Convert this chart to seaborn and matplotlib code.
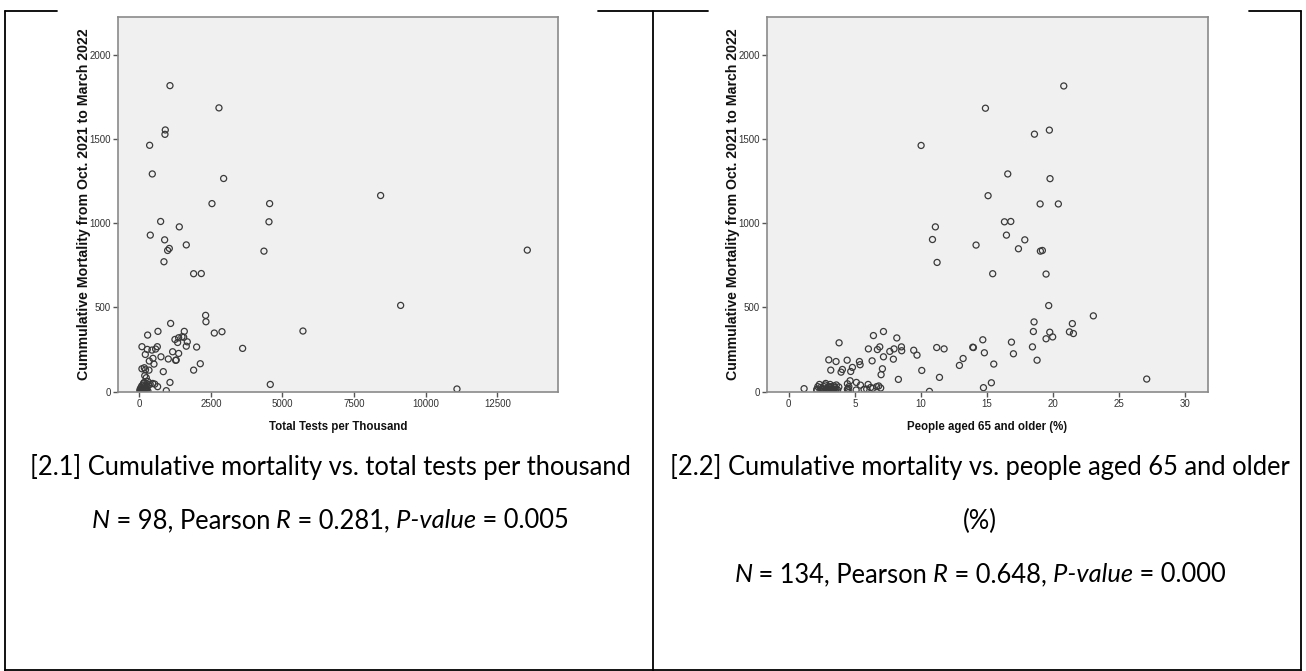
import numpy as np
import pandas as pd
import matplotlib
matplotlib.use("Agg")
import matplotlib.pyplot as plt
from matplotlib.lines import Line2D
import seaborn as sns

# --- data (tests per thousand vs mortality) ---
tests_x = [1071, 2782, 908, 896, 361, 454, 2945, 8427, 2538, 4551, 745, 4528, 1397, 384,
           885, 1641, 1048, 989, 4353, 13549, 861, 1897, 2165, 9126, 2316, 2328, 1094, 5715,
           652, 291, 2619, 2887, 1571, 3608, 2002,
           1245, 1374, 1490, 1339, 1676, 1550, 1641, 93, 629, 570, 442, 279, 210, 477, 757,
           1013, 1164, 1374, 1269, 1290, 349, 512, 338, 93, 175, 838, 2130, 1897,
           244, 150, 190, 1071, 4574, 466, 640, 943, 11093, 216, 300, 330, 380, 540,
           20, 40, 60, 80, 100, 120, 140, 160, 180, 200, 220, 250, 270, 300, 60, 90, 130,
           170, 30, 110, 230]
tests_y = [1816, 1684, 1553, 1527, 1462, 1292, 1265, 1164, 1116, 1116, 1010, 1008, 978, 929,
           901, 871, 850, 838, 834, 840, 771, 700, 701, 512, 453, 415, 405, 360,
           358, 336, 348, 356, 358, 257, 265,
           310, 320, 326, 292, 296, 323, 270, 267, 267, 253, 247, 251, 221, 198, 207,
           194, 237, 227, 186, 188, 182, 164, 128, 136, 142, 119, 166, 128,
           83, 50, 95, 55, 43, 49, 30, 6, 16, 130, 60, 40, 45, 45,
           5, 10, 3, 15, 8, 20, 2, 12, 30, 5, 18, 10, 25, 4, 25, 35, 40,
           55, 15, 0, 40]

# --- people aged 65+ vs mortality ---
aged_x = [20.82, 14.89, 18.60, 19.73, 10.02, 16.58, 19.78, 15.09, 19.03, 20.41, 16.33, 16.81,
          11.10, 10.88, 14.18, 16.48, 17.87, 17.39, 19.05, 19.20, 11.23, 15.44, 19.48, 19.68,
          23.06, 18.57, 21.47, 18.52, 19.76, 21.25, 21.55, 19.48, 19.98, 18.45, 18.80, 14.69,
          16.86, 14.81, 17.01, 15.52, 15.34, 14.74, 13.93, 13.98, 13.20, 12.92, 11.20, 11.76,
          11.41, 10.07, 10.65, 27.10,
          7.17, 6.41, 8.18, 3.81, 6.03, 6.71, 6.89, 7.65, 7.97, 8.53, 8.55, 9.46, 9.71, 7.17,
          7.92, 6.31, 7.09, 6.99, 8.30, 4.42, 5.35, 5.40, 3.58, 3.03, 3.18, 4.06, 3.96, 4.82,
          4.69, 4.64, 4.44, 5.12, 5.43, 6.01, 6.81, 6.96, 5.70, 6.36, 6.66, 1.16, 5.10, 4.44,
          2.32, 2.80, 3.13, 3.43, 3.79, 2.12, 2.50, 2.93, 3.26, 3.58, 2.67, 3.03, 3.38, 2.37,
          2.75, 3.13, 3.51, 2.62, 3.00, 2.12,
          4.50, 4.50, 4.55, 2.40, 2.60, 2.90, 3.20, 3.40, 3.60, 2.20, 2.75, 3.05, 3.30, 2.45,
          3.50, 2.85, 3.15, 3.70, 5.90, 6.20]
aged_y = [1814, 1682, 1528, 1552, 1461, 1292, 1264, 1163, 1114, 1114, 1008, 1010,
          978, 903, 870, 929, 901, 848, 834, 838, 767, 700, 698, 511,
          450, 414, 404, 357, 353, 355, 345, 314, 325, 266, 187, 308,
          294, 231, 225, 164, 53, 24, 264, 262, 197, 156, 262, 254,
          85, 126, 2, 75,
          357, 333, 319, 290, 254, 250, 266, 239, 254, 266, 243, 246, 217, 207,
          193, 183, 136, 101, 73, 187, 179, 160, 179, 189, 128, 132, 116, 144,
          120, 65, 47, 55, 39, 43, 34, 22, 14, 20, 30, 18, 10, 14,
          43, 49, 43, 34, 28, 14, 18, 14, 18, 14, 30, 30, 10, 6,
          6, 6, 24, 2, 2, 6,
          5, 20, 30, 25, 10, 22, 30, 2, 40, 30, 40, 15, 12, 2,
          6, 4, 24, 10, 15, 25]

ylabel = "Cummulative Mortality from Oct. 2021 to March 2022"

W, H = 1306, 671
sns.set_theme(style="white")
plt.rcParams['font.family'] = ['Liberation Sans', 'DejaVu Sans']

fig = plt.figure(figsize=(W / 100, H / 100), dpi=100)


def px_axes(x0, y0, x1, y1):
    return fig.add_axes([x0 / W, 1 - y1 / H, (x1 - x0) / W, (y1 - y0) / H])


def style_axes(ax, xlim, xticks, xlabel):
    ax.set_facecolor('#F0F0F0')
    ax.set_xlim(*xlim)
    ax.set_ylim(0, 2225)
    ax.set_xticks(xticks)
    ax.set_yticks([0, 500, 1000, 1500, 2000])
    for sp in ax.spines.values():
        sp.set_color('#8a8a8a')
        sp.set_linewidth(1.2)
    ax.tick_params(axis='both', direction='out', length=3.5, width=1, color='#555555',
                   labelsize=7, labelcolor='#333333', pad=1.5,
                   bottom=True, left=True, top=False, right=False)
    # the SPSS chart was stretched vertically, so the y label runs longer
    ax.set_ylabel(ylabel, fontsize=10.2, fontweight='bold', color='#111111')
    ax.set_xlabel(xlabel, fontsize=8.3, fontweight='bold', color='#111111')
    ax.yaxis.set_label_coords(-0.0765, 0.5)
    ax.xaxis.set_label_coords(0.5, -0.095)
    ax.xaxis.label.set_va('center')
    ax.yaxis.label.set_va('center')


ax1 = px_axes(117.7, 16.7, 558, 391.7)
df1 = pd.DataFrame({'tests': tests_x, 'mort': tests_y})
sns.scatterplot(data=df1, x='tests', y='mort', ax=ax1, marker='o', s=19,
                facecolors='none', edgecolors='#3a3a3a', linewidth=0.9)
style_axes(ax1, (-754, 14621), [0, 2500, 5000, 7500, 10000, 12500], "Total Tests per Thousand")

ax2 = px_axes(766.7, 16.7, 1208, 391.7)
df2 = pd.DataFrame({'aged': aged_x, 'mort': aged_y})
sns.scatterplot(data=df2, x='aged', y='mort', ax=ax2, marker='o', s=19,
                facecolors='none', edgecolors='#3a3a3a', linewidth=0.9)
style_axes(ax2, (-1.67, 31.74), [0, 5, 10, 15, 20, 25, 30], "People aged 65 and older (%)")

# table borders
def hline(x0, x1, y, lw=1.3):
    fig.add_artist(Line2D([x0 / W, x1 / W], [1 - y / H, 1 - y / H], color='black', lw=lw))


def vline(x, y0, y1, lw=1.3):
    fig.add_artist(Line2D([x / W, x / W], [1 - y0 / H, 1 - y1 / H], color='black', lw=lw))


hline(4.5, 57, 11)
hline(598, 708, 11)
hline(1249, 1301, 11)
hline(4.5, 1301, 670)
vline(5, 11, 671)
vline(653, 11, 671)
vline(1300.5, 11, 671)

# captions (Calibri-like; Lato is the closest installed face)
cap_size = 18.4
renderer = fig.canvas.get_renderer()


def rich_text(xc, y, pieces):
    objs = []
    for s, st in pieces:
        objs.append(fig.text(0, 1 - y / H, s, fontsize=cap_size, family='Lato', style=st,
                             va='center', ha='left', color='black'))
    widths = [t.get_window_extent(renderer).width for t in objs]
    x = xc - sum(widths) / 2
    for t, w in zip(objs, widths):
        t.set_x(x / W)
        x += w


rich_text(330, 467, [("[2.1] Cumulative mortality vs. total tests per thousand", 'normal')])
rich_text(330, 521, [("N", 'italic'), (" = 98, Pearson", 'normal'), (" R", 'italic'),
                     (" = 0.281,", 'normal'), (" P-value", 'italic'), (" = 0.005", 'normal')])
rich_text(980, 467, [("[2.2] Cumulative mortality vs. people aged 65 and older", 'normal')])
rich_text(980, 521, [("(%)", 'normal')])
rich_text(980, 575, [("N", 'italic'), (" = 134, Pearson", 'normal'), (" R", 'italic'),
                     (" = 0.648,", 'normal'), (" P-value", 'italic'), (" = 0.000", 'normal')])

fig.savefig('out.png', dpi=100, facecolor='white')
